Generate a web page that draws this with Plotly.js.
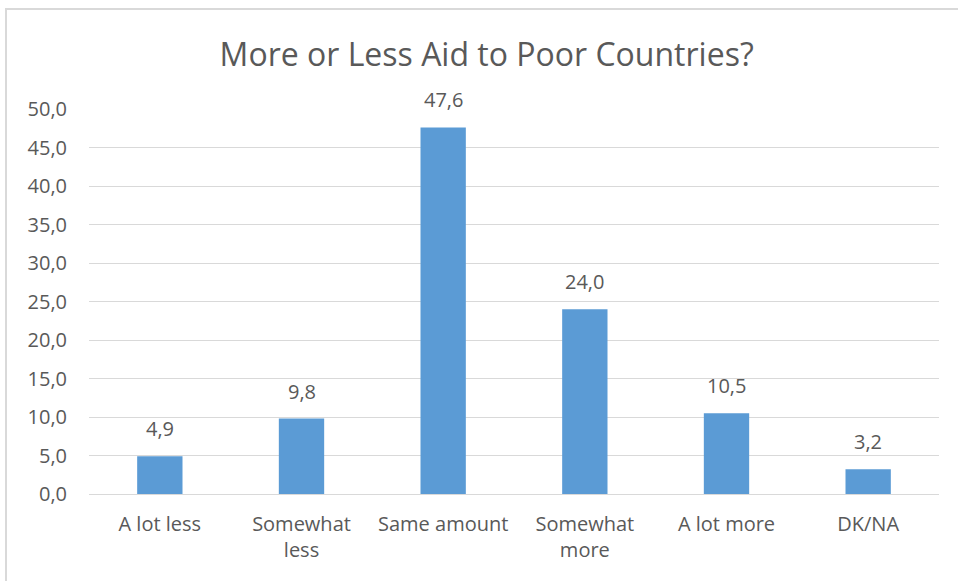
<!DOCTYPE html>
<html>
<head>
<meta charset="utf-8">
<script src="https://cdn.plot.ly/plotly-3.0.1.min.js"></script>
<style>
  html, body { margin: 0; padding: 0; background: #fff; }
  #wrap { position: relative; width: 958px; height: 581px; overflow: hidden; }
  #chart { position: absolute; left: 0; top: 0; width: 958px; height: 581px; }
  #frame { position: absolute; left: 5px; top: 8px; width: 1000px; height: 700px;
           border: 2px solid #d9d9d9; box-sizing: border-box; pointer-events: none; }
</style>
</head>
<body>
<div id="wrap">
  <div id="chart"></div>
  <div id="frame"></div>
</div>
<script>
const categories = ["A lot less", "Somewhat<br>less", "Same amount", "Somewhat<br>more", "A lot more", "DK/NA"];
const values = [4.9, 9.8, 47.6, 24.0, 10.5, 3.2];
const yTicks = [0, 5, 10, 15, 20, 25, 30, 35, 40, 45, 50];

const FONT = "'Open Sans', 'Noto Sans', sans-serif";
const GREY = "#595959";

const trace = {
  type: "bar",
  x: categories,
  y: values,
  marker: { color: "#5B9BD5" },
  hoverinfo: "none"
};

const annotations = categories.map((c, i) => ({
  x: c,
  y: values[i],
  xref: "x",
  yref: "y",
  text: values[i].toFixed(1).replace(".", ","),
  showarrow: false,
  yanchor: "bottom",
  yshift: 12,
  font: { family: FONT, size: 20, color: GREY }
}));

const layout = {
  width: 958,
  height: 581,
  margin: { l: 89, r: 19, t: 109, b: 87 },
  paper_bgcolor: "rgba(0,0,0,0)",
  plot_bgcolor: "#fff",
  separators: ",.",
  bargap: 0.68,
  showlegend: false,
  title: {
    text: "More or Less Aid to Poor Countries?",
    x: 0.508,
    xanchor: "center",
    y: 1 - 55 / 581,
    yref: "container",
    yanchor: "middle",
    font: { family: FONT, size: 32, color: GREY }
  },
  xaxis: {
    type: "category",
    showgrid: false,
    showline: false,
    zeroline: false,
    ticks: "",
    ticklabelstandoff: 16,
    tickfont: { family: FONT, size: 20, color: GREY }
  },
  yaxis: {
    range: [0, 50],
    tickvals: yTicks,
    tickformat: ".1f",
    showgrid: true,
    gridcolor: "#d9d9d9",
    gridwidth: 1,
    zeroline: true,
    zerolinecolor: "#d9d9d9",
    zerolinewidth: 1,
    showline: false,
    ticks: "",
    ticklabelstandoff: 21,
    tickfont: { family: FONT, size: 20, color: GREY }
  },
  annotations: annotations
};

Plotly.newPlot("chart", [trace], layout, { displayModeBar: false, staticPlot: true });
</script>
</body>
</html>
